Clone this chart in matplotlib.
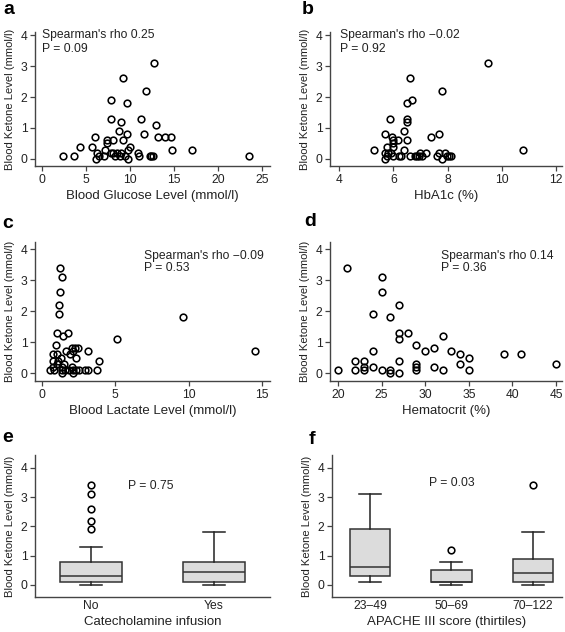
import matplotlib
matplotlib.use("Agg")
import matplotlib.pyplot as plt

plt.rcParams['font.family'] = ['Liberation Sans', 'DejaVu Sans']

# ---------------- data ----------------
glucose_x = [2.4, 3.6, 4.3, 5.7, 6.0, 6.1, 6.3, 6.5, 7.0, 7.2, 7.4, 7.4, 7.8, 7.8, 7.8,
             8.1, 8.1, 8.3, 8.5, 8.7, 8.85, 9.0, 9.0, 9.2, 9.2, 9.4, 9.6, 9.7, 9.8, 9.8,
             10.0, 10.9, 11.0, 11.2, 11.6, 11.8, 12.3, 12.4, 12.6, 12.7, 12.9, 13.2, 14.0,
             14.6, 14.75, 17.0, 23.5]
glucose_y = [0.1, 0.1, 0.4, 0.4, 0.7, 0.0, 0.2, 0.1, 0.1, 0.3, 0.6, 0.5, 0.2, 1.9, 1.3,
             0.6, 0.2, 0.1, 0.2, 0.9, 0.1, 0.2, 1.2, 2.6, 0.6, 0.1, 1.8, 0.8, 0.3, 0.0,
             0.4, 0.2, 0.1, 1.3, 0.8, 2.2, 0.1, 0.1, 0.1, 3.1, 1.1, 0.7, 0.7,
             0.7, 0.3, 0.3, 0.1]

hba1c_x = [5.29, 5.68, 5.68, 5.68, 5.77, 5.77, 5.82, 5.88, 5.9, 5.96, 6.0, 6.0, 6.0, 6.0,
           6.18, 6.2, 6.28, 6.4, 6.4, 6.5, 6.5, 6.5, 6.5, 6.6, 6.6, 6.7, 6.8, 6.88, 6.95,
           7.0, 7.05, 7.2, 7.4, 7.6, 7.7, 7.7, 7.8, 7.8, 7.9, 7.99, 8.05, 8.13, 9.5, 10.8]
hba1c_y = [0.3, 0.8, 0.2, 0.0, 0.4, 0.1, 0.2, 1.3, 0.2, 0.7, 0.6, 0.5, 0.4, 0.1,
           0.6, 0.1, 0.1, 0.9, 0.3, 1.3, 1.2, 1.8, 0.6, 2.6, 0.1, 1.9, 0.1, 0.1, 0.1,
           0.2, 0.1, 0.2, 0.7, 0.1, 0.8, 0.2, 2.2, 0.0, 0.2, 0.1, 0.1, 0.1, 3.1, 0.3]

lactate_x = [0.54, 0.73, 0.73, 0.73, 0.84, 0.95, 1.0, 1.0, 1.04, 1.09, 1.18, 1.18, 1.23,
             1.25, 1.32, 1.36, 1.36, 1.36, 1.36, 1.45, 1.5, 1.54, 1.66, 1.77, 1.82, 1.93,
             2.02, 2.02, 2.09, 2.09, 2.13, 2.22, 2.31, 2.34, 2.45, 2.54, 2.93, 3.15, 3.15,
             3.74, 3.86, 5.13, 9.6, 14.5]
lactate_y = [0.1, 0.2, 0.4, 0.6, 0.1, 0.9, 0.6, 0.3, 1.3, 0.4, 1.9, 2.2, 3.4,
             2.6, 0.5, 3.1, 0.2, 0.1, 0.0, 1.2, 0.3, 0.1, 0.7, 1.3, 0.1, 0.6,
             0.8, 0.2, 0.1, 0.0, 0.7, 0.8, 0.5, 0.1, 0.8, 0.1, 0.1, 0.1, 0.7,
             0.1, 0.4, 1.1, 1.8, 0.7]

hct_x = [20, 21, 22, 22, 23, 23, 23, 24, 24, 24, 25, 25, 25, 26, 26, 26, 27, 27, 27, 27, 27,
         28, 29, 29, 29, 29, 30, 31, 31, 32, 32, 33, 34, 34, 35, 35, 39, 41, 45]
hct_y = [0.1, 3.4, 0.4, 0.1, 0.4, 0.2, 0.1, 1.9, 0.7, 0.2, 3.1, 2.6, 0.1, 1.8, 0.1, 0.0,
         2.2, 1.3, 1.1, 0.4, 0.0, 1.3, 0.9, 0.3, 0.2, 0.1, 0.7, 0.8, 0.2, 1.2, 0.1, 0.7,
         0.6, 0.3, 0.5, 0.1, 0.6, 0.6, 0.3]

cat_labels = ["No", "Yes"]
cat_q1 = [0.1, 0.1]
cat_med = [0.3, 0.45]
cat_q3 = [0.8, 0.8]
cat_lo = [0.0, 0.0]
cat_hi = [1.3, 1.8]
cat_out = [[1.9, 2.2, 2.6, 3.1, 3.4], []]

apache_labels = ["23\u201349", "50\u201369", "70\u2013122"]
apache_q1 = [0.3, 0.1, 0.1]
apache_med = [0.6, 0.1, 0.4]
apache_q3 = [1.9, 0.5, 0.9]
apache_lo = [0.1, 0.0, 0.0]
apache_hi = [3.1, 0.8, 1.8]
apache_out = [[], [1.2], [3.4]]

# ---------------- layout ----------------
W, H = 565, 632
fig = plt.figure(figsize=(W / 100, H / 100), dpi=100)

def add_axes(l, t, r, b):
    return fig.add_axes([l / W, 1 - b / H, (r - l) / W, (b - t) / H])

SPINE = '#444444'
TXT = '#222222'
ANN = 8.7
XL = 9.5

def style(ax):
    for s in ['top', 'right']:
        ax.spines[s].set_visible(False)
    for s in ['left', 'bottom']:
        ax.spines[s].set_color(SPINE)
        ax.spines[s].set_linewidth(1.0)
    ax.tick_params(direction='out', length=3.5, width=0.9, color=SPINE,
                   labelsize=8.7, labelcolor=TXT, pad=2)
    ax.set_yticks([0, 1, 2, 3, 4])
    ax.set_ylabel("Blood Ketone Level (mmol/l)", fontsize=8.1, color=TXT, labelpad=4)

def scatter(ax, x, y):
    ax.plot(x, y, linestyle='none', marker='o', ms=4.8, mfc='none', mec='black', mew=1.15)

axes_rect = {
    'a': (35, 32, 270, 166), 'b': (330, 32, 562, 166),
    'c': (35, 242, 270, 381), 'd': (330, 242, 562, 381),
    'e': (35, 455, 270, 597), 'f': (332, 455, 562, 597),
}
letter_pos = {'a': (3, 10), 'b': (302, 10), 'c': (2, 224), 'd': (304, 222),
              'e': (2, 438), 'f': (309, 439)}

axs = {k: add_axes(*v) for k, v in axes_rect.items()}
for k, ax in axs.items():
    style(ax)
    fig.text(letter_pos[k][0] / W, 1 - letter_pos[k][1] / H, k, fontsize=14,
             fontweight='bold', va='center', ha='left')

# a
ax = axs['a']
scatter(ax, glucose_x, glucose_y)
ax.set_xlim(-0.795, 25.9); ax.set_ylim(-0.226, 4.097)
ax.set_xticks([0, 5, 10, 15, 20, 25])
ax.set_xlabel("Blood Glucose Level (mmol/l)", fontsize=XL, color=TXT, labelpad=3)
ax.text(0, 4.0, "Spearman's rho 0.25", fontsize=ANN, va='center', ha='left', color=TXT)
ax.text(0, 3.56, "P = 0.09", fontsize=ANN, va='center', ha='left', color=TXT)

# b
ax = axs['b']
scatter(ax, hba1c_x, hba1c_y)
ax.set_xlim(3.668, 12.22); ax.set_ylim(-0.226, 4.097)
ax.set_xticks([4, 6, 8, 10, 12])
ax.set_xlabel("HbA1c (%)", fontsize=XL, color=TXT, labelpad=3)
ax.text(4.05, 4.0, "Spearman's rho \u22120.02", fontsize=ANN, va='center', ha='left', color=TXT)
ax.text(4.05, 3.56, "P = 0.92", fontsize=ANN, va='center', ha='left', color=TXT)

# c
ax = axs['c']
scatter(ax, lactate_x, lactate_y)
ax.set_xlim(-0.477, 15.55); ax.set_ylim(-0.258, 4.226)
ax.set_xticks([0, 5, 10, 15])
ax.set_xlabel("Blood Lactate Level (mmol/l)", fontsize=XL, color=TXT, labelpad=3)
ax.text(6.95, 3.77, "Spearman's rho \u22120.09", fontsize=ANN, va='center', ha='left', color=TXT)
ax.text(6.95, 3.38, "P = 0.53", fontsize=ANN, va='center', ha='left', color=TXT)

# d
ax = axs['d']
scatter(ax, hct_x, hct_y)
ax.set_xlim(19.08, 45.69); ax.set_ylim(-0.258, 4.226)
ax.set_xticks([20, 25, 30, 35, 40, 45])
ax.set_xlabel("Hematocrit (%)", fontsize=XL, color=TXT, labelpad=3)
ax.text(31.8, 3.77, "Spearman's rho 0.14", fontsize=ANN, va='center', ha='left', color=TXT)
ax.text(31.8, 3.38, "P = 0.36", fontsize=ANN, va='center', ha='left', color=TXT)

def boxes(ax, labels, q1, med, q3, lo, hi, out, capw):
    stats = []
    for i in range(len(labels)):
        stats.append(dict(label=labels[i], q1=q1[i], med=med[i], q3=q3[i],
                          whislo=lo[i], whishi=hi[i], fliers=out[i]))
    ax.bxp(stats, positions=list(range(1, len(labels) + 1)), widths=0.5,
           patch_artist=True, capwidths=capw,
           boxprops=dict(facecolor='#dcdcdc', edgecolor='#333333', linewidth=1.1),
           medianprops=dict(color='#333333', linewidth=1.1),
           whiskerprops=dict(color='#222222', linewidth=1.1),
           capprops=dict(color='#222222', linewidth=1.1),
           flierprops=dict(marker='o', ms=4.8, mfc='none', mec='black', mew=1.15))

# e
ax = axs['e']
boxes(ax, cat_labels, cat_q1, cat_med, cat_q3, cat_lo, cat_hi, cat_out, 0.18)
ax.set_xlim(0.545, 2.455); ax.set_ylim(-0.41, 4.44)
ax.tick_params(axis='x', length=0)
ax.set_xlabel("Catecholamine infusion", fontsize=XL, color=TXT, labelpad=3)
ax.text(1.3, 3.38, "P = 0.75", fontsize=ANN, va='center', ha='left', color=TXT)

# f
ax = axs['f']
boxes(ax, apache_labels, apache_q1, apache_med, apache_q3, apache_lo, apache_hi, apache_out, 0.27)
ax.set_xlim(0.534, 3.356); ax.set_ylim(-0.41, 4.44)
ax.tick_params(axis='x', length=0)
ax.set_xlabel("APACHE III score (thirtiles)", fontsize=XL, color=TXT, labelpad=3)
ax.text(1.72, 3.48, "P = 0.03", fontsize=ANN, va='center', ha='left', color=TXT)

fig.savefig("out.png", dpi=100, facecolor='white')
